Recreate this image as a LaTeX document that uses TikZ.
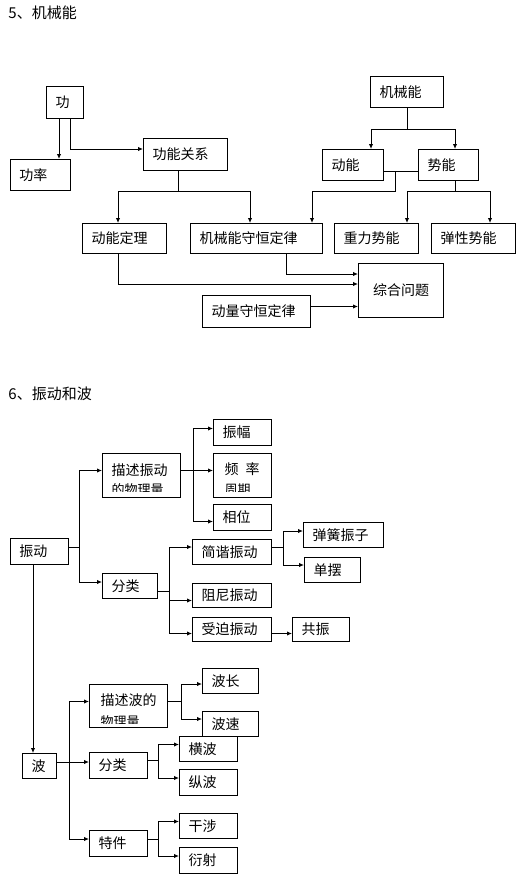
\documentclass[tikz,border=0pt]{standalone}
\usepackage{fontspec}
\setmainfont{Noto Sans CJK SC}
\usetikzlibrary{arrows.meta,calc}

\begin{document}
\begin{tikzpicture}[x=1pt,y=-1pt,line width=1pt,
    box/.style 2 args={draw, anchor=north west, inner xsep=9pt, inner ysep=0pt,
        text width=#1pt-18pt, minimum height=#2pt, align=left,
        font=\fontsize{14}{16}\selectfont},
    txt/.style={anchor=west, inner sep=0pt, font=\fontsize{14}{16}\selectfont},
    txtsmall/.style={anchor=west, inner sep=0pt, font=\fontsize{13}{15}\selectfont},
    head/.style={anchor=west, inner sep=0pt, font=\fontsize{15}{17}\selectfont},
    arr/.style={-{Latex[length=5pt,width=4.5pt]}}]
        \useasboundingbox (0,0) rectangle (528,880) ;

        \node[head] (head5) at (8,13) {5、机械能} ;

        \node[box={37}{32}] (gong) at (46,86) {功} ;
        \node[box={60}{31}] (gl) at (10,159) {功率} ;
        \node[box={84}{32}] (gnjx) at (143,138) {功能关系} ;
        \node[box={84}{30}] (dndl) at (82,223) {动能定理} ;
        \node[box={132}{30}] (jxsh) at (190,223) {机械能守恒定律} ;
        \node[box={73}{31}] (jxn) at (370,76) {机械能} ;
        \node[box={61}{31}] (dn) at (322,149) {动能} ;
        \node[box={60}{31}] (sn) at (418,149) {势能} ;
        \node[box={84}{30}] (zl) at (334,223) {重力势能} ;
        \node[box={84}{30}] (txn) at (431,223) {弹性势能} ;
        \node[box={85}{54}, align=center] (zh) at (358,263) {综合问题} ;
        \node[box={108}{32}] (dl) at (202,295) {动量守恒定律} ;

        \draw[arr] ($(gong.south west)+(13,0)$) coordinate (g1) -- (g1 |- gl.north) ;
        \draw[arr] ($(gong.south west)+(24,0)$) |- ($(gnjx.north west)+(0,11)$) ;

        \coordinate (j1) at ($(gnjx.south west)+(35,20)$) ;
        \draw (j1 |- gnjx.south) -- (j1) ;
        \draw[arr] (j1) -| ($(dndl.north west)+(36,0)$) ;
        \draw[arr] (j1) -| ($(jxsh.north west)+(60,0)$) ;

        \coordinate (j2) at ($(jxn.south)+(0,21.5)$) ;
        \draw (jxn.south) -- (j2) ;
        \draw[arr] (j2) -| ($(dn.north west)+(49,0)$) ;
        \draw[arr] (j2) -| ($(sn.north west)+(37,0)$) ;

        \draw ($(dn.east)+(0,6)$) -- ($(sn.west)+(0,6)$) ;
        \coordinate (j3) at ($(dn.east)+(11,6)$) ;
        \draw[arr] (j3) -- ++(0,20) -| ($(jxsh.north east)+(-11,0)$) ;

        \coordinate (j4) at ($(sn.south west)+(37,10)$) ;
        \draw (j4 |- sn.south) -- (j4) ;
        \draw[arr] (j4) -| ($(zl.north east)+(-12,0)$) ;
        \draw[arr] (j4) -| ($(txn.north west)+(59,0)$) ;

        \draw[arr] ($(jxsh.south west)+(96,0)$) |- ($(zh.north west)+(0,11)$) ;
        \draw[arr] ($(dndl.south west)+(36,0)$) |- ($(zh.north west)+(0,21)$) ;
        \draw[arr] ($(dl.east)+(0,-5)$) coordinate (d1) -- (d1 -| zh.west) ;


        \node[head] (head6) at (8,394) {6、振动和波} ;

        \node[box={58}{26}] (zd) at (10,538) {振动} ;
        \node[box={78}{44}] (msz) at (102,453) {} ;
        \node[txt] (msz-a) at ($(msz.north west)+(9,17)$) {描述振动} ;
        \begin{scope}
            \clip (msz.north west) rectangle ($(msz.south east)+(0,-6.5)$) ;
            \node[txtsmall] (msz-b) at ($(msz.north west)+(9,37)$) {的物理量} ;
        \end{scope}
        \node[box={55}{25}] (fl1) at (102,573) {分类} ;
        \node[box={58}{26}] (zf) at (213,419) {振幅} ;
        \node[box={58}{44}] (pl) at (213,453) {} ;
        \node[txt] (pl-a) at ($(pl.north west)+(11,16)$) {频\hspace{7pt}率} ;
        \begin{scope}
            \clip (pl.north west) rectangle ($(pl.south east)+(0,-6.5)$) ;
            \node[txtsmall] (pl-b) at ($(pl.north west)+(11,37)$) {周期} ;
        \end{scope}
        \node[box={58}{26}] (xw) at (213,504) {相位} ;
        \node[box={79}{25}] (jx) at (192,539) {简谐振动} ;
        \node[box={79}{24}] (zn) at (192,583) {阻尼振动} ;
        \node[box={79}{24}] (sp) at (192,617) {受迫振动} ;
        \node[box={80}{25}] (thz) at (303,522) {弹簧振子} ;
        \node[box={56}{25}] (db) at (304,557) {单摆} ;
        \node[box={57}{24}] (gz) at (292,617) {共振} ;

        \draw ($(zd.east)+(0,-4)$) -- ++(10,0) coordinate (b1) ;
        \draw[arr] (b1) |- ($(msz.west)+(0,-5)$) ;
        \draw[arr] (b1) |- ($(fl1.west)+(0,-4)$) ;

        \draw ($(msz.east)+(0,-5)$) -- ++(12,0) coordinate (b2) ;
        \draw[arr] (b2) |- ($(zf.west)+(0,-4)$) ;
        \draw[arr] (b2) -- ($(pl.west)+(0,-5)$) ;
        \draw[arr] (b2) |- ($(xw.west)+(0,4)$) ;

        \draw ($(fl1.east)+(0,5)$) -- ++(11,0) coordinate (b3) ;
        \draw[arr] (b3) |- ($(jx.west)+(0,-5)$) ;
        \draw[arr] (b3) |- ($(zn.west)+(0,5)$) ;
        \draw[arr] (b3) |- ($(sp.west)+(0,4)$) ;

        \draw ($(jx.east)+(0,-5)$) -- ++(11,0) coordinate (b4) ;
        \draw[arr] (b4) |- ($(thz.west)+(0,-4)$) ;
        \draw[arr] (b4) |- ($(db.west)+(0,-5)$) ;

        \draw[arr] ($(sp.east)+(0,4)$) coordinate (s1) -- (s1 -| gz.west) ;

        \node[box={34}{25}] (bo) at (22,753) {波} ;
        \node[box={78}{43}] (msb) at (89,684) {} ;
        \node[txt] (msb-a) at ($(msb.north west)+(11,16)$) {描述波的} ;
        \begin{scope}
            \clip (msb.north west) rectangle ($(msb.south east)+(0,-5)$) ;
            \node[txtsmall] (msb-b) at ($(msb.north west)+(11,38)$) {物理量} ;
        \end{scope}
        \node[box={58}{26}] (fl2) at (89,752) {分类} ;
        \node[box={58}{26}] (tx2) at (89,830) {特件} ;
        \node[box={56}{25}] (bc) at (202,668) {波长} ;
        \node[box={56}{25}] (bs) at (202,711) {波速} ;
        \node[box={58}{25}] (hb) at (179,736) {横波} ;
        \node[box={58}{26}] (zb) at (179,769) {纵波} ;
        \node[box={58}{25}] (gs) at (179,813) {干涉} ;
        \node[box={58}{26}] (ys) at (179,847) {衍射} ;

        \draw[arr] ($(zd.south west)+(23,0)$) coordinate (z1) -- (z1 |- bo.north) ;

        \draw ($(bo.east)+(0,-4)$) -- ++(12,0) coordinate (b5) ;
        \draw[arr] (b5) |- ($(msb.west)+(0,-4.5)$) ;
        \draw[arr] (b5) -- (b5 -| fl2.west) ;
        \draw[arr] (b5) |- ($(tx2.west)+(0,-4.5)$) ;

        \draw ($(msb.east)+(0,-4.5)$) -- ++(13,0) coordinate (b6) ;
        \draw[arr] (b6) |- ($(bc.west)+(0,3)$) ;
        \draw[arr] (b6) |- ($(bs.west)+(0,-5)$) ;

        \draw ($(fl2.east)+(0,-5)$) -- ++(10,0) coordinate (b7) ;
        \draw[arr] (b7) |- ($(hb.west)+(0,-4.5)$) ;
        \draw[arr] (b7) |- ($(zb.west)+(0,-4.5)$) ;

        \draw ($(tx2.east)+(0,-4.5)$) -- ++(10,0) coordinate (b8) ;
        \draw[arr] (b8) |- ($(gs.west)+(0,-4.5)$) ;
        \draw[arr] (b8) |- ($(ys.west)+(0,-4.5)$) ;

    \end{tikzpicture}
\end{document}
